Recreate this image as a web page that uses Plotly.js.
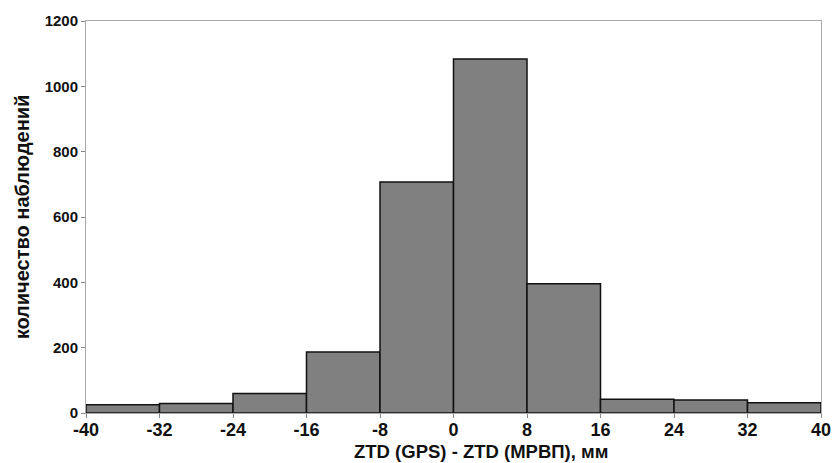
<!DOCTYPE html>
<html>
<head>
<meta charset="utf-8">
<script src="https://cdn.plot.ly/plotly-3.0.1.min.js"></script>
<style>html,body{margin:0;padding:0;background:#fff;}#chart{width:833px;height:463px;}</style>
</head>
<body>
<div id="chart"></div>
<script>
// Bin left edges (mm) and bin width
const binStarts = [-40, -32, -24, -16, -8, 0, 8, 16, 24, 32];
const binWidth = 8;
// Number of observations in each bin
const counts = [25, 29, 60, 187, 707, 1084, 396, 42, 40, 31];
// Tick labels
const xTicks = [-40, -32, -24, -16, -8, 0, 8, 16, 24, 32, 40];
const yTicks = [0, 200, 400, 600, 800, 1000, 1200];
const xTitle = 'ZTD (GPS) - ZTD (МРВП), мм';
const yTitle = 'количество наблюдений';

const centers = binStarts.map(s => s + binWidth / 2);

const trace = {
  type: 'bar',
  x: centers,
  y: counts,
  width: binStarts.map(() => binWidth),
  marker: { color: '#808080', line: { color: '#111111', width: 1.5 } },
  hoverinfo: 'x+y'
};

const fam = 'Liberation Sans, Arial, sans-serif';

const layout = {
  width: 833, height: 463,
  margin: { l: 86, r: 12, t: 21, b: 50 },
  paper_bgcolor: '#fff', plot_bgcolor: '#fff',
  showlegend: false,
  bargap: 0,
  xaxis: {
    range: [-40, 40],
    tickvals: xTicks,
    ticktext: xTicks.map(String),
    tickfont: { family: fam, color: '#111', size: 18, weight: 'bold' },
    ticks: 'outside', ticklen: 4, tickcolor: '#888',
    ticklabelstandoff: -4,
    showline: true, linecolor: '#aaa', linewidth: 1, mirror: true,
    showgrid: false, zeroline: false
  },
  yaxis: {
    range: [0, 1200],
    tickvals: yTicks,
    ticktext: yTicks.map(String),
    tickfont: { family: fam, color: '#111', size: 15, weight: 'bold' },
    ticks: 'outside', ticklen: 4, tickcolor: '#888',
    showline: true, linecolor: '#aaa', linewidth: 1, mirror: true,
    showgrid: false, zeroline: false,
    title: { text: yTitle, font: { family: fam, color: '#111', size: 20, weight: 'bold' }, standoff: 9 }
  },
  annotations: [{
    text: xTitle,
    xref: 'paper', yref: 'paper',
    x: 0.537, y: 0, yshift: -38,
    xanchor: 'center', yanchor: 'middle',
    showarrow: false, borderpad: 0,
    font: { family: fam, color: '#111', size: 18.5, weight: 'bold' }
  }]
};

Plotly.newPlot('chart', [trace], layout, { displayModeBar: false, staticPlot: true });
</script>
</body>
</html>
